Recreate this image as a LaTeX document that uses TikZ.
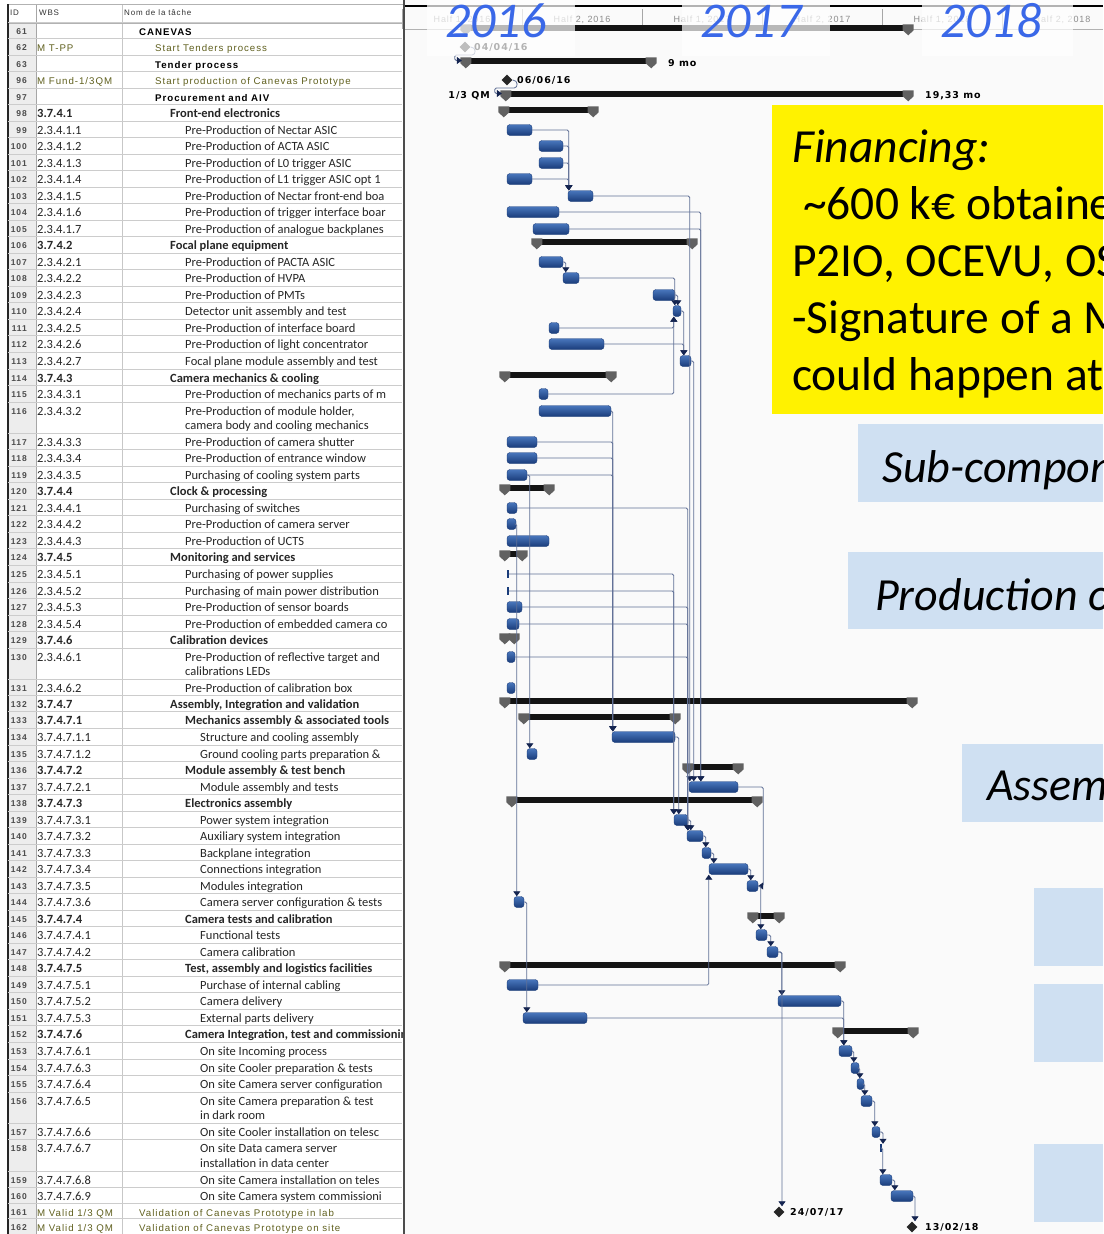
\documentclass[tikz,border=0pt]{standalone}
\usepackage{fontspec}
\setmainfont{Carlito}
\newfontfamily\msfont[LetterSpace=10]{Liberation Sans}
\newfontfamily\lblfont[LetterSpace=10]{DejaVu Sans}
\usetikzlibrary{arrows.meta,shapes.geometric}

\definecolor{barhi}{RGB}{72,118,188}
\definecolor{barlo}{RGB}{26,60,122}
\definecolor{linkc}{RGB}{96,112,150}
\definecolor{tipc}{RGB}{20,36,80}
\definecolor{olivetxt}{RGB}{96,96,30}
\definecolor{notebg}{RGB}{207,224,242}
\definecolor{yearblue}{RGB}{58,104,232}
\definecolor{chartbg}{RGB}{250,250,250}

\tikzset{
  task/.style={rectangle, rounded corners=3pt, minimum height=11pt, inner sep=0pt,
    top color=barhi, bottom color=barlo, draw=barlo, line width=0.4pt},
  sumbody/.style={rectangle, fill=black!92, minimum height=6pt, inner sep=0pt},
  sumcap/.style={fill=black!62},
  milestone/.style={diamond, fill=black!85, minimum size=11pt, inner sep=0pt},
  ztick/.style={rectangle, fill=barlo, minimum width=1.6pt, minimum height=8pt, inner sep=0pt},
  dep/.style={draw=linkc, line width=0.8pt, rounded corners=1.5pt,
    -{Triangle[width=7pt,length=5pt,color=tipc]}},
  headtxt/.style={anchor=base west, inner sep=0pt, text=black!80,
    font=\msfont\fontsize{8}{9}\selectfont},
  idtxt/.style={anchor=base east, inner sep=0pt, text=black!70,
    font=\msfont\bfseries\fontsize{8.5}{9}\selectfont},
  wbstxt/.style={anchor=base west, inner sep=0pt, text=black!85,
    font=\fontsize{12.5}{14}\selectfont},
  nametxt/.style={anchor=base west, inner sep=0pt, text=black!85,
    font=\fontsize{12.5}{14}\selectfont},
  lbl/.style={inner sep=0pt, font=\lblfont\bfseries\fontsize{9.5}{11}\selectfont},
  halftxt/.style={inner sep=0pt, text=black!45, font=\msfont\fontsize{9}{10}\selectfont},
  yeartxt/.style={anchor=base west, inner sep=0pt, text=yearblue,
    font=\itshape\fontsize{50}{52}\selectfont},
  bigtxt/.style={anchor=base west, inner sep=0pt, font=\fontsize{46}{50}\selectfont},
  fintxt/.style={anchor=base west, inner sep=0pt, font=\fontsize{47.5}{50}\selectfont},
  gridln/.style={draw=black!20, line width=0.5pt}
}

% table text in the project font
\newcommand\prjtxt{\msfont\fontsize{9.7}{11}\selectfont\color{olivetxt}}
\newcommand\prjbold{\msfont\bfseries\fontsize{9.7}{11}\selectfont\color{black}}

% one line of the task table: id, wbs, y, indent, name
\newcommand\trow[5]{%
  \draw[gridln] (8,{#3-8.5}) -- (402,{#3-8.5});
  \node[idtxt] (id#1) at (27,{#3+3}) {#1};
  \node[wbstxt] (wbs#1) at (37,{#3+4}) {#2};
  \node[nametxt] (nm#1) at (#4,{#3+4}) {#5};
}

% gantt task bar: name, start, end, y
\newcommand\gtask[4]{%
  \node[task, minimum width={(#3-#2)*1pt}] (#1) at ({(#2+#3)/2},#4) {};
}

% summary bar with its two end caps
\newcommand\gsum[4]{%
  \node[sumbody, minimum width={(#3-#2)*1pt}] (#1) at ({(#2+#3)/2},{#4-3.5}) {};
  \fill[sumcap] ([xshift=-1.5pt]#1.north west) -- ++(11,0) -- ++(0,6)
    -- ++(-5.5,5) -- ++(-5.5,-5) -- cycle;
  \fill[sumcap] ([xshift=1.5pt]#1.north east) -- ++(-11,0) -- ++(0,6)
    -- ++(5.5,5) -- ++(5.5,-5) -- cycle;
}

\begin{document}
\begin{tikzpicture}[x=1pt, y=-1pt]
  \useasboundingbox (0,0) rectangle (1103,1234);
  \clip (0,0) rectangle (1103,1234);
  \fill[white] (0,0) rectangle (405,1234);
  \fill[chartbg] (405,0) rectangle (1103,1234);

  % table frame and header
  \fill[black!7] (8,23) rectangle (36,1234);
  \draw[black!35] (36,4) -- (36,1234);
  \draw[black!22] (122,4) -- (122,1234);
  \draw[black!30] (8,4) -- (403,4);
  \draw[black!30] (8,23) -- (403,23);
  \draw[black!85, line width=1.5pt] (8,4) -- (8,1234);
  \draw[black!70, line width=1.5pt] (404,0) -- (404,1234);
  \node[headtxt] (hid) at (10,16) {ID};
  \node[headtxt] (hwbs) at (39,16) {WBS};
  \node[headtxt] (hname) at (124,16) {Nom de la tâche};

  \begin{scope}
    \clip (0,0) rectangle (402,1234);
    \trow{61}{}{31}{139}{\prjbold CANEVAS}
    \trow{62}{\prjtxt M T-PP}{47}{155}{\prjtxt Start Tenders process}
    \trow{63}{}{64}{155}{\prjbold Tender process}
    \trow{96}{\prjtxt M Fund-1/3QM}{80}{155}{\prjtxt Start production of Canevas Prototype}
    \trow{97}{}{97}{155}{\prjbold Procurement and AIV}
    \trow{98}{\bfseries 3.7.4.1}{113}{170}{\bfseries Front-end electronics}
    \trow{99}{2.3.4.1.1}{130}{185}{Pre-Production of Nectar ASIC}
    \trow{100}{2.3.4.1.2}{146}{185}{Pre-Production of ACTA ASIC}
    \trow{101}{2.3.4.1.3}{163}{185}{Pre-Production of L0 trigger ASIC}
    \trow{102}{2.3.4.1.4}{179}{185}{Pre-Production of L1 trigger ASIC opt 1}
    \trow{103}{2.3.4.1.5}{196}{185}{Pre-Production of Nectar front-end boa}
    \trow{104}{2.3.4.1.6}{212}{185}{Pre-Production of trigger interface boar}
    \trow{105}{2.3.4.1.7}{229}{185}{Pre-Production of analogue backplanes}
    \trow{106}{\bfseries 3.7.4.2}{245}{170}{\bfseries Focal plane equipment}
    \trow{107}{2.3.4.2.1}{262}{185}{Pre-Production of PACTA ASIC}
    \trow{108}{2.3.4.2.2}{278}{185}{Pre-Production of HVPA}
    \trow{109}{2.3.4.2.3}{295}{185}{Pre-Production of PMTs}
    \trow{110}{2.3.4.2.4}{311}{185}{Detector unit assembly and test}
    \trow{111}{2.3.4.2.5}{328}{185}{Pre-Production of interface board}
    \trow{112}{2.3.4.2.6}{344}{185}{Pre-Production of light concentrator}
    \trow{113}{2.3.4.2.7}{361}{185}{Focal plane module assembly and test}
    \trow{114}{\bfseries 3.7.4.3}{378}{170}{\bfseries Camera mechanics \& cooling}
    \trow{115}{2.3.4.3.1}{394}{185}{Pre-Production of mechanics parts of m}
    \trow{116}{2.3.4.3.2}{411}{185}{Pre-Production of module holder,}
    \node[nametxt] (nm116b) at (185,429) {camera body and cooling mechanics};
    \trow{117}{2.3.4.3.3}{442}{185}{Pre-Production of camera shutter}
    \trow{118}{2.3.4.3.4}{458}{185}{Pre-Production of entrance window}
    \trow{119}{2.3.4.3.5}{475}{185}{Purchasing of cooling system parts}
    \trow{120}{\bfseries 3.7.4.4}{491}{170}{\bfseries Clock \& processing}
    \trow{121}{2.3.4.4.1}{508}{185}{Purchasing of switches}
    \trow{122}{2.3.4.4.2}{524}{185}{Pre-Production of camera server}
    \trow{123}{2.3.4.4.3}{541}{185}{Pre-Production of UCTS}
    \trow{124}{\bfseries 3.7.4.5}{557}{170}{\bfseries Monitoring and services}
    \trow{125}{2.3.4.5.1}{574}{185}{Purchasing of power supplies}
    \trow{126}{2.3.4.5.2}{591}{185}{Purchasing of main power distribution}
    \trow{127}{2.3.4.5.3}{607}{185}{Pre-Production of sensor boards}
    \trow{128}{2.3.4.5.4}{624}{185}{Pre-Production of embedded camera co}
    \trow{129}{\bfseries 3.7.4.6}{640}{170}{\bfseries Calibration devices}
    \trow{130}{2.3.4.6.1}{657}{185}{Pre-Production of reflective target and}
    \node[nametxt] (nm130b) at (185,675) {calibrations LEDs};
    \trow{131}{2.3.4.6.2}{688}{185}{Pre-Production of calibration box}
    \trow{132}{\bfseries 3.7.4.7}{704}{170}{\bfseries Assembly, Integration and validation}
    \trow{133}{\bfseries 3.7.4.7.1}{720}{185}{\bfseries Mechanics assembly \& associated tools}
    \trow{134}{3.7.4.7.1.1}{737}{200}{Structure and cooling assembly}
    \trow{135}{3.7.4.7.1.2}{754}{200}{Ground cooling parts preparation \&}
    \trow{136}{\bfseries 3.7.4.7.2}{770}{185}{\bfseries Module assembly \& test bench}
    \trow{137}{3.7.4.7.2.1}{787}{200}{Module assembly and tests}
    \trow{138}{\bfseries 3.7.4.7.3}{803}{185}{\bfseries Electronics assembly}
    \trow{139}{3.7.4.7.3.1}{820}{200}{Power system integration}
    \trow{140}{3.7.4.7.3.2}{836}{200}{Auxiliary system integration}
    \trow{141}{3.7.4.7.3.3}{853}{200}{Backplane integration}
    \trow{142}{3.7.4.7.3.4}{869}{200}{Connections integration}
    \trow{143}{3.7.4.7.3.5}{886}{200}{Modules integration}
    \trow{144}{3.7.4.7.3.6}{902}{200}{Camera server configuration \& tests}
    \trow{145}{\bfseries 3.7.4.7.4}{919}{185}{\bfseries Camera tests and calibration}
    \trow{146}{3.7.4.7.4.1}{935}{200}{Functional tests}
    \trow{147}{3.7.4.7.4.2}{952}{200}{Camera calibration}
    \trow{148}{\bfseries 3.7.4.7.5}{968}{185}{\bfseries Test, assembly and logistics facilities}
    \trow{149}{3.7.4.7.5.1}{985}{200}{Purchase of internal cabling}
    \trow{150}{3.7.4.7.5.2}{1001}{200}{Camera delivery}
    \trow{151}{3.7.4.7.5.3}{1018}{200}{External parts delivery}
    \trow{152}{\bfseries 3.7.4.7.6}{1034}{185}{\bfseries Camera Integration, test and commissionin}
    \trow{153}{3.7.4.7.6.1}{1051}{200}{On site Incoming process}
    \trow{154}{3.7.4.7.6.3}{1068}{200}{On site Cooler preparation \& tests}
    \trow{155}{3.7.4.7.6.4}{1084}{200}{On site Camera server configuration}
    \trow{156}{3.7.4.7.6.5}{1101}{200}{On site Camera preparation \& test}
    \node[nametxt] (nm156b) at (200,1119) {in dark room};
    \trow{157}{3.7.4.7.6.6}{1132}{200}{On site Cooler installation on telesc}
    \trow{158}{3.7.4.7.6.7}{1148}{200}{On site Data camera server}
    \node[nametxt] (nm158b) at (200,1167) {installation in data center};
    \trow{159}{3.7.4.7.6.8}{1180}{200}{On site Camera installation on teles}
    \trow{160}{3.7.4.7.6.9}{1196}{200}{On site Camera system commissioni}
    \trow{161}{\prjtxt M Valid 1/3 QM}{1212}{139}{\prjtxt Validation of Canevas Prototype in lab}
    \trow{162}{\prjtxt M Valid 1/3 QM}{1227}{139}{\prjtxt Validation of Canevas Prototype on site}
  \end{scope}

  % time scale
  \draw[black, line width=2.5pt] (405,6) -- (1103,6);
  \foreach \k in {0,...,5}
    \draw[black!35] ({402+120*\k},9) -- ({402+120*\k},29);
  \draw[black!30] (405,29) -- (1103,29);
  \node[halftxt] (h1) at (462,20) {Half 1, 2016};
  \node[halftxt] (h2) at (582,20) {Half 2, 2016};
  \node[halftxt] (h3) at (702,20) {Half 1, 2017};
  \node[halftxt] (h4) at (822,20) {Half 2, 2017};
  \node[halftxt] (h5) at (942,20) {Half 1, 2018};
  \node[halftxt] (h6) at (1062,20) {Half 2, 2018};

  % summary bars
  \gsum{s61}{462}{912}{31}
  \gsum{s63}{462}{655}{64}
  \gsum{s97}{502}{912}{97}
  \gsum{s98}{500}{597}{113}
  \gsum{s106}{533}{696}{245}
  \gsum{s114}{501}{615}{378}
  \gsum{s120}{501}{553}{491}
  \gsum{s124}{501}{526}{557}
  \gsum{s129}{501}{518}{640}
  \gsum{s132}{501}{916}{704}
  \gsum{s133}{520}{679}{720}
  \gsum{s136}{684}{742}{770}
  \gsum{s138}{508}{761}{803}
  \gsum{s145}{749}{783}{919}
  \gsum{s148}{501}{844}{968}
  \gsum{s152}{834}{917}{1034}

  % task bars
  \gtask{t99}{507}{532}{130}
  \gtask{t100}{539}{563}{146}
  \gtask{t101}{539}{563}{163}
  \gtask{t102}{507}{532}{179}
  \gtask{t103}{568}{593}{196}
  \gtask{t104}{507}{559}{212}
  \gtask{t105}{533}{569}{229}
  \gtask{t107}{539}{563}{262}
  \gtask{t108}{563}{579}{278}
  \gtask{t109}{653}{675}{295}
  \gtask{t110}{673}{681}{311}
  \gtask{t111}{549}{559}{328}
  \gtask{t112}{549}{604}{344}
  \gtask{t113}{680}{691}{361}
  \gtask{t115}{539}{548}{394}
  \gtask{t116}{539}{611}{411}
  \gtask{t117}{507}{537}{442}
  \gtask{t118}{507}{537}{458}
  \gtask{t119}{507}{527}{475}
  \gtask{t121}{507}{517}{508}
  \gtask{t122}{507}{516}{524}
  \gtask{t123}{507}{549}{541}
  \node[ztick] (t125) at (508,574) {};
  \node[ztick] (t126) at (508,591) {};
  \gtask{t127}{507}{522}{607}
  \gtask{t128}{507}{519}{624}
  \gtask{t130}{507}{515}{657}
  \gtask{t131}{507}{515}{688}
  \gtask{t134}{612}{675}{737}
  \gtask{t135}{527}{537}{754}
  \gtask{t137}{689}{738}{787}
  \gtask{t139}{674}{688}{820}
  \gtask{t140}{687}{703}{836}
  \gtask{t141}{702}{711}{853}
  \gtask{t142}{709}{748}{869}
  \gtask{t143}{747}{758}{886}
  \gtask{t144}{514}{524}{902}
  \gtask{t146}{756}{767}{935}
  \gtask{t147}{767}{778}{952}
  \gtask{t149}{507}{538}{985}
  \gtask{t150}{778}{841}{1001}
  \gtask{t151}{523}{587}{1018}
  \gtask{t153}{839}{852}{1051}
  \gtask{t154}{851}{859}{1068}
  \gtask{t155}{857}{864}{1084}
  \gtask{t156}{861}{872}{1101}
  \gtask{t157}{872}{880}{1132}
  \node[ztick] (t158) at (881,1148) {};
  \gtask{t159}{880}{892}{1180}
  \gtask{t160}{891}{913}{1196}

  % milestones and their dates
  \node[milestone] (m62) at (465,47) {};
  \node[milestone] (m96) at (507,80) {};
  \node[milestone] (m161) at (779,1212) {};
  \node[milestone] (m162) at (912,1227) {};
  \node[lbl, anchor=west] (d62) at (474,47) {04/04/16};
  \node[lbl, anchor=west] (d96) at (517,80) {06/06/16};
  \node[lbl, anchor=west] (d63) at (668,63) {9 mo};
  \node[lbl, anchor=west] (d97) at (925,96) {19,33 mo};
  \node[lbl, anchor=east] (q97) at (490,96) {1/3 QM};
  \node[lbl, anchor=west] (d161) at (790,1212) {24/07/17};
  \node[lbl, anchor=west] (d162) at (925,1227) {13/02/18};

  % links
  \draw[dep] (m62.east) to[out=0,in=0,looseness=1.8] ++(0,8) -- ++(-16,0) |- (s63.west);
  \draw[dep] (m96.east) to[out=0,in=0,looseness=1.8] ++(0,8) -- ++(-18,0) |- (s97.west);
  % front-end electronics
  \draw[dep] (t99.east) -| ([xshift=1pt]t103.north west);
  \draw[dep] (t100.east) -| ([xshift=1pt]t103.north west);
  \draw[dep] (t101.east) -| ([xshift=1pt]t103.north west);
  \draw[dep] (t102.east) -| ([xshift=1pt]t103.north west);
  \draw[dep] (t103.east) -| ([xshift=1pt]t137.north west);
  \draw[dep] (t104.east) -| ([xshift=12pt]t137.north west);
  \draw[dep] (t105.east) -| ([xshift=12pt]t137.north west);
  % focal plane
  \draw[dep] (t107.east) -| ([xshift=3pt]t108.north west);
  \draw[dep] (t108.east) -| ([xshift=2pt]t110.north west);
  \draw[dep] (t109.east) -| ([xshift=5pt]t110.north west);
  \draw[dep] (t111.east) -| ([xshift=1pt]t110.south west);
  \draw[dep] (t115.east) -| ([xshift=1pt]t110.south west);
  \draw[dep] (t110.east) -| ([xshift=4pt]t113.north west);
  \draw[dep] (t112.east) -| ([xshift=4pt]t113.north west);
  \draw[dep] (t113.east) -| ([xshift=5pt]t137.north west);
  % mechanics
  \draw[dep] (t116.east) -| ([xshift=1pt]t134.north west);
  \draw[dep] (t117.east) -| ([xshift=1pt]t134.north west);
  \draw[dep] (t118.east) -| ([xshift=1pt]t134.north west);
  \draw[dep] (t119.east) -| ([xshift=1pt]t134.north west);
  \draw[dep] (t119.east) -| ([xshift=3pt]t135.north west);
  % clock, monitoring, calibration
  \draw[dep] (t122.east) -| ([xshift=3pt]t144.north west);
  \draw[dep] (t121.east) -| ([xshift=1pt]t140.north west);
  \draw[dep] (t127.east) -| ([xshift=1pt]t140.north west);
  \draw[dep] (t128.east) -| ([xshift=1pt]t140.north west);
  \draw[dep] (t130.east) -| ([xshift=1pt]t140.north west);
  \draw[dep] (t125.east) -| (t139.north west);
  \draw[dep] (t126.east) -| (t139.north west);
  \draw[dep] (t134.east) -| ([xshift=5pt]t139.north west);
  % electronics assembly
  \draw[dep] (t139.east) -| ([xshift=4pt]t140.north west);
  \draw[dep] (t140.east) -| ([xshift=4pt]t141.north west);
  \draw[dep] (t141.east) -| ([xshift=5pt]t142.north west);
  \draw[dep] (t142.east) -| ([xshift=4pt]t143.north west);
  \draw[dep] (t149.east) -| (t142.south west);
  \draw[dep] (t137.east) -- ++(25,0) |- (t143.east);
  % tests and delivery
  \draw[dep] (t143.east) -| ([xshift=5pt]t146.north west);
  \draw[dep] (t146.east) -| ([xshift=4pt]t147.north west);
  \draw[dep] (t147.east) -| ([xshift=4pt]t150.north west);
  \draw[dep] (t147.east) -| ([xshift=3pt]m161.north);
  \draw[dep] (t144.east) -| ([xshift=4pt]t151.north west);
  \draw[dep] (t150.east) -| ([xshift=5pt]t153.north west);
  \draw[dep] (t151.east) -| ([xshift=5pt]t153.north west);
  % on site
  \draw[dep] (t153.east) -| ([xshift=3pt]t154.north west);
  \draw[dep] (t154.east) -| ([xshift=3pt]t155.north west);
  \draw[dep] (t155.east) -| ([xshift=4pt]t156.north west);
  \draw[dep] (t156.east) -| ([xshift=3pt]t157.north west);
  \draw[dep] (t157.east) -| ([xshift=2pt]t158.north);
  \draw[dep] (t158.east) -| ([xshift=3pt]t159.north west);
  \draw[dep] (t159.east) -| ([xshift=4pt]t160.north west);
  \draw[dep] (t160.east) -| ([xshift=3pt]m162.north);

  % year captions on faded boxes
  \fill[white, opacity=0.7] (427,0) rectangle (575,56);
  \fill[white, opacity=0.7] (682,0) rectangle (830,56);
  \fill[white, opacity=0.7] (922,0) rectangle (1073,56);
  \node[yeartxt] (y2016) at (445,37) {2016};
  \node[yeartxt] (y2017) at (700,37) {2017};
  \node[yeartxt] (y2018) at (940,37) {2018};

  % notes
  \fill[yellow] (772,105) rectangle (1103,414);
  \node[fintxt] (fin1) at (792,162) {\itshape Financing:};
  \node[fintxt] (fin2) at (803,219) {\textasciitilde600 k€ obtaine};
  \node[fintxt] (fin3) at (792,276) {P2IO, OCEVU, OS};
  \node[fintxt] (fin4) at (792,333) {-Signature of a M};
  \node[fintxt] (fin5) at (792,390) {could happen at};
  \fill[notebg] (858,424) rectangle (1103,502);
  \node[bigtxt] (sub) at (882,482) {\itshape Sub-compon};
  \fill[notebg] (848,552) rectangle (1103,629);
  \node[bigtxt] (prod) at (875,610) {\itshape Production o};
  \fill[notebg] (962,744) rectangle (1103,822);
  \node[bigtxt] (assem) at (987,800) {\itshape Assem};
  \fill[notebg] (1034,888) rectangle (1103,966);
  \fill[notebg] (1034,984) rectangle (1103,1062);
  \fill[notebg] (1034,1144) rectangle (1103,1222);
\end{tikzpicture}
\end{document}
